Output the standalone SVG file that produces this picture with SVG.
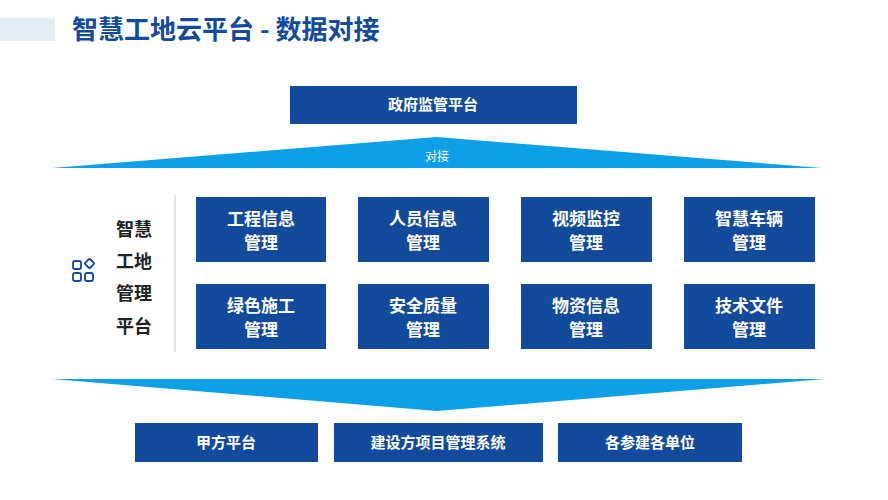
<svg xmlns="http://www.w3.org/2000/svg" width="888" height="500" viewBox="0 0 888 500">
<style>
.b{fill:#124a9c}
.t{fill:#fff;font-family:"Noto Sans CJK SC",sans-serif;font-weight:bold;font-size:17px;text-anchor:middle}
.s{fill:#fff;font-family:"Noto Sans CJK SC",sans-serif;font-weight:bold;font-size:15px;text-anchor:middle}
.k{fill:#222;font-family:"Noto Sans CJK SC",sans-serif;font-weight:bold;font-size:18px;text-anchor:middle}
</style>
<rect width="888" height="500" fill="#fff"/>
<rect x="0" y="18" width="55" height="23" fill="#e4eef6"/>
<text x="72" y="39" font-family="Noto Sans CJK SC,sans-serif" font-weight="bold" font-size="26" fill="#124a9c">智慧工地云平台 - 数据对接</text>
<g id="gov"><rect class="b" x="290" y="86" width="287" height="38"/><text class="s" x="433" y="110">政府监管平台</text></g>
<g id="connectors">
<polygon points="52,168 437,137 822,168" fill="#0ea0e6"/>
<text x="437" y="161" font-family="Noto Sans CJK SC,sans-serif" font-size="12" fill="#fff" text-anchor="middle">对接</text>
<polygon points="52,379 825,379 437,411" fill="#0ea0e6"/>
<line x1="175" y1="195" x2="175" y2="352" stroke="#ccc" stroke-width="1"/>
</g>
<g id="side">
<g fill="none" stroke="#124a9c" stroke-width="1.8">
<rect x="73" y="261" width="8" height="8" rx="2"/><rect x="73" y="273" width="8" height="8" rx="2"/><rect x="85" y="273" width="8" height="8" rx="2"/>
<rect x="86" y="260" width="7" height="7" rx="1" transform="rotate(45 89.5 263.5)"/>
</g>
<text class="k" x="134" y="236">智慧</text><text class="k" x="134" y="268">工地</text><text class="k" x="134" y="300">管理</text><text class="k" x="134" y="333">平台</text>
</g>
<g id="m1"><rect class="b" x="196" y="197" width="130" height="65"/><text class="t" x="261" y="225">工程信息</text><text class="t" x="261" y="249">管理</text></g>
<g id="m2"><rect class="b" x="358" y="197" width="131" height="65"/><text class="t" x="423" y="225">人员信息</text><text class="t" x="423" y="249">管理</text></g>
<g id="m3"><rect class="b" x="521" y="197" width="131" height="65"/><text class="t" x="586" y="225">视频监控</text><text class="t" x="586" y="249">管理</text></g>
<g id="m4"><rect class="b" x="684" y="197" width="131" height="65"/><text class="t" x="749" y="225">智慧车辆</text><text class="t" x="749" y="249">管理</text></g>
<g id="m5"><rect class="b" x="196" y="284" width="130" height="65"/><text class="t" x="261" y="312">绿色施工</text><text class="t" x="261" y="336">管理</text></g>
<g id="m6"><rect class="b" x="358" y="284" width="131" height="65"/><text class="t" x="423" y="312">安全质量</text><text class="t" x="423" y="336">管理</text></g>
<g id="m7"><rect class="b" x="521" y="284" width="131" height="65"/><text class="t" x="586" y="312">物资信息</text><text class="t" x="586" y="336">管理</text></g>
<g id="m8"><rect class="b" x="684" y="284" width="131" height="65"/><text class="t" x="749" y="312">技术文件</text><text class="t" x="749" y="336">管理</text></g>
<g id="p1"><rect class="b" x="135" y="423" width="183" height="39"/><text class="s" x="226" y="448">甲方平台</text></g>
<g id="p2"><rect class="b" x="334" y="423" width="209" height="39"/><text class="s" x="438" y="448">建设方项目管理系统</text></g>
<g id="p3"><rect class="b" x="558" y="423" width="184" height="39"/><text class="s" x="650" y="448">各参建各单位</text></g>
</svg>
